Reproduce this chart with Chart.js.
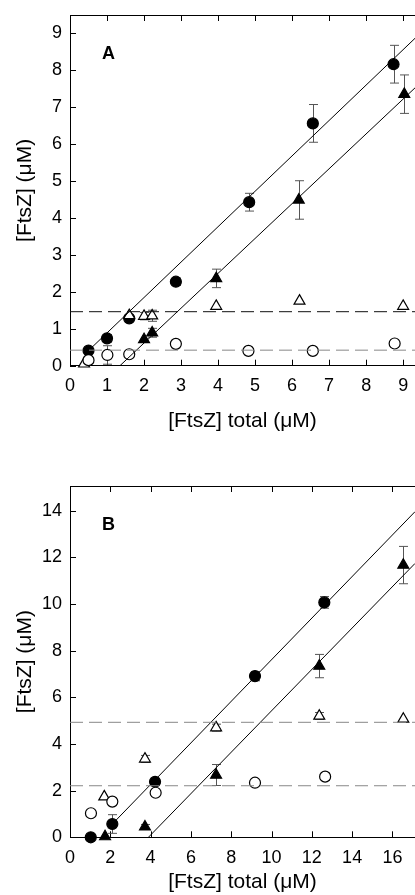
<!DOCTYPE html>
<html>
<head>
<meta charset="utf-8">
<script src="https://cdn.jsdelivr.net/npm/chart.js@4"></script>
<style>
body { margin: 0; background: #fff; overflow: hidden; }
.panel { position: absolute; left: 0; width: 415px; }
#panelA { top: 0; height: 445px; }
#panelB { top: 445px; height: 450px; }
</style>
</head>
<body>
<div class="panel" id="panelA"><canvas id="chart-a"></canvas></div>
<div class="panel" id="panelB"><canvas id="chart-b"></canvas></div>
<script>
// panel A
const aCircX = [0.5, 1.0, 1.6, 2.86, 4.84, 6.56, 8.74]
const aCircY = [0.41, 0.74, 1.28, 2.27, 4.42, 6.55, 8.15]
const aCircErr = [0, 0.1, 0, 0.1, 0.24, 0.51, 0.51]
const aTriX = [2.0, 2.22, 3.95, 6.18, 9.03]
const aTriY = [0.71, 0.89, 2.36, 4.48, 7.34]
const aTriErr = [0, 0.12, 0.25, 0.52, 0.52]
const aOpenTriX = [0.38, 1.6, 2.0, 2.22, 3.95, 6.2, 9.0]
const aOpenTriY = [0.05, 1.36, 1.34, 1.35, 1.61, 1.75, 1.61]
const aOpenTriErr = [0, 0, 0.1, 0.15, 0, 0, 0]
const aOpenCircX = [0.5, 1.01, 1.6, 2.86, 4.82, 6.56, 8.77]
const aOpenCircY = [0.15, 0.29, 0.31, 0.59, 0.4, 0.4, 0.6]
const aOpenCircErr = [0, 0.25, 0, 0, 0, 0, 0]
const aFitUpX = [0.45, 9.32]
const aFitUpY = [0.36, 8.85]
const aFitLowX = [1.35, 9.32]
const aFitLowY = [0, 7.51]
const aDashHigh = 1.46
const aDashLow = 0.42

// panel B
const bCircX = [1.03, 2.1, 4.22, 9.18, 12.62]
const bCircY = [0, 0.57, 2.38, 6.91, 10.07]
const bCircErr = [0, 0.4, 0, 0.2, 0.25]
const bTriX = [1.74, 3.72, 7.25, 12.37, 16.54]
const bTriY = [0.03, 0.45, 2.67, 7.34, 11.67]
const bTriErr = [0, 0.1, 0.45, 0.5, 0.8]
const bOpenTriX = [1.7, 3.72, 7.25, 12.37, 16.54]
const bOpenTriY = [1.74, 3.36, 4.7, 5.2, 5.07]
const bOpenTriErr = [0, 0.15, 0.15, 0.15, 0]
const bOpenCircX = [1.04, 2.1, 4.25, 9.18, 12.66]
const bOpenCircY = [1.03, 1.53, 1.91, 2.34, 2.6]
const bOpenCircErr = [0, 0, 0, 0, 0.15]
const bFitUpX = [1.9, 17.12]
const bFitUpY = [0.39, 13.96]
const bFitLowX = [3.89, 17.12]
const bFitLowY = [0, 11.74]
const bDashHigh = 4.93
const bDashLow = 2.21

const xTitle = '[FtsZ] total (\u03bcM)'
const yTitle = '[FtsZ] (\u03bcM)'

Chart.defaults.font.family = '"Liberation Sans", Arial, sans-serif'
Chart.defaults.color = '#000'

function pts(xs, ys) {
    return xs.map((x, i) => ({x: x, y: ys[i]}))
}

// inward tick marks, error bars and the panel letter
const extras = {
    id: 'extras',
    beforeDatasetsDraw(chart) {
        const ctx = chart.ctx
        const area = chart.chartArea
        const y = chart.scales.y
        ctx.save()
        ctx.strokeStyle = '#000'
        ctx.lineWidth = 1
        ctx.beginPath()
        chart.scales.x.ticks.forEach(t => {
            const px = Math.round(chart.scales.x.getPixelForValue(t.value)) + 0.5
            ctx.moveTo(px, area.bottom)
            ctx.lineTo(px, area.bottom - 6)
        })
        chart.scales.x2.ticks.forEach(t => {
            const px = Math.round(chart.scales.x2.getPixelForValue(t.value)) + 0.5
            ctx.moveTo(px, area.top)
            ctx.lineTo(px, area.top + 6)
        })
        y.ticks.forEach(t => {
            const py = Math.round(y.getPixelForValue(t.value)) + 0.5
            ctx.moveTo(area.left, py)
            ctx.lineTo(area.left + 6, py)
        })
        ctx.stroke()

        ctx.strokeStyle = '#555'
        ctx.beginPath()
        chart.data.datasets.forEach((ds, i) => {
            if (!ds.err) return
            const meta = chart.getDatasetMeta(i)
            meta.data.forEach((p, j) => {
                const e = ds.err[j]
                if (!e) return
                const top = y.getPixelForValue(ds.data[j].y + e)
                const bot = y.getPixelForValue(ds.data[j].y - e)
                const px = Math.round(p.x) + 0.5
                ctx.moveTo(px, top)
                ctx.lineTo(px, bot)
                ctx.moveTo(px - 4.5, top)
                ctx.lineTo(px + 4.5, top)
                ctx.moveTo(px - 4.5, bot)
                ctx.lineTo(px + 4.5, bot)
            })
        })
        ctx.stroke()
        ctx.restore()
    },
    afterDraw(chart) {
        const ctx = chart.ctx
        const area = chart.chartArea
        ctx.save()
        ctx.fillStyle = '#000'
        ctx.font = 'bold 18px "Liberation Sans", Arial, sans-serif'
        ctx.textBaseline = 'alphabetic'
        ctx.fillText(chart.options.plugins.extras.label, area.left + 32, area.top + 44)
        ctx.restore()
    }
}

function lineSet(xs, ys, color, dash) {
    return {
        data: pts(xs, ys),
        showLine: true,
        borderColor: color,
        borderWidth: 1,
        borderDash: dash,
        pointRadius: 0
    }
}

function markerSet(xs, ys, err, style, filled) {
    return {
        data: pts(xs, ys),
        err: err,
        pointStyle: style,
        pointRadius: style === 'triangle' ? 6.3 : 5.5,
        backgroundColor: filled ? '#000' : '#fff',
        borderColor: '#000',
        borderWidth: 1.2,
        clip: false
    }
}

function makeChart(canvas, cfg) {
    return new Chart(canvas.getContext('2d'), {
        type: 'scatter',
        data: {datasets: cfg.datasets},
        plugins: [extras],
        options: {
            responsive: true,
            maintainAspectRatio: false,
            animation: false,
            events: [],
            layout: {padding: 0, autoPadding: false},
            plugins: {
                legend: {display: false},
                tooltip: {enabled: false},
                extras: {label: cfg.label}
            },
            scales: {
                x: {
                    type: 'linear',
                    position: 'bottom',
                    min: 0,
                    max: cfg.xMax,
                    ticks: {stepSize: cfg.xStep, includeBounds: false, padding: 10, font: {size: 18}},
                    grid: {drawOnChartArea: false, drawTicks: false},
                    border: {color: '#000', width: 1},
                    title: {display: true, text: xTitle, font: {size: 21}, padding: {top: 0, bottom: cfg.xTitlePad}},
                    afterFit: s => { s.height = cfg.bottomH; s.paddingLeft = 0; s.paddingRight = 0 }
                },
                x2: {
                    type: 'linear',
                    position: 'top',
                    min: 0,
                    max: cfg.xMax,
                    ticks: {stepSize: cfg.xStep, includeBounds: false, display: false},
                    grid: {drawOnChartArea: false, drawTicks: false},
                    border: {color: '#000', width: 1},
                    afterFit: s => { s.height = cfg.topH; s.paddingLeft = 0; s.paddingRight = 0 }
                },
                y: {
                    type: 'linear',
                    position: 'left',
                    min: 0,
                    max: cfg.yMax,
                    ticks: {stepSize: cfg.yStep, includeBounds: false, padding: 8, font: {size: 18}},
                    grid: {drawOnChartArea: false, drawTicks: false},
                    border: {color: '#000', width: 1},
                    title: {display: true, text: yTitle, font: {size: 21}, padding: {top: 13, bottom: 0}},
                    afterFit: s => { s.width = 70; s.paddingTop = 0; s.paddingBottom = 0 }
                }
            }
        }
    })
}

makeChart(document.querySelector('#chart-a'), {
    label: 'A',
    xMax: 9.32, xStep: 1, yMax: 9.48, yStep: 1,
    topH: 15, bottomH: 79.3, xTitlePad: 11,
    datasets: [
        lineSet([0, 9.32], [aDashHigh, aDashHigh], '#111', [13, 6]),
        lineSet([0, 9.32], [aDashLow, aDashLow], '#888', [13, 6]),
        lineSet(aFitUpX, aFitUpY, '#000', []),
        lineSet(aFitLowX, aFitLowY, '#000', []),
        markerSet(aOpenCircX, aOpenCircY, aOpenCircErr, 'circle', false),
        markerSet(aOpenTriX, aOpenTriY, aOpenTriErr, 'triangle', false),
        markerSet(aCircX, aCircY, aCircErr, 'circle', true),
        markerSet(aTriX, aTriY, aTriErr, 'triangle', true)
    ]
})

makeChart(document.querySelector('#chart-b'), {
    label: 'B',
    xMax: 17.12, xStep: 2, yMax: 15.06, yStep: 2,
    topH: 41, bottomH: 57.7, xTitlePad: 0,
    datasets: [
        lineSet([0, 17.12], [bDashHigh, bDashHigh], '#888', [13, 6]),
        lineSet([0, 17.12], [bDashLow, bDashLow], '#888', [13, 6]),
        lineSet(bFitUpX, bFitUpY, '#000', []),
        lineSet(bFitLowX, bFitLowY, '#000', []),
        markerSet(bOpenCircX, bOpenCircY, bOpenCircErr, 'circle', false),
        markerSet(bOpenTriX, bOpenTriY, bOpenTriErr, 'triangle', false),
        markerSet(bCircX, bCircY, bCircErr, 'circle', true),
        markerSet(bTriX, bTriY, bTriErr, 'triangle', true)
    ]
})
</script>
</body>
</html>
